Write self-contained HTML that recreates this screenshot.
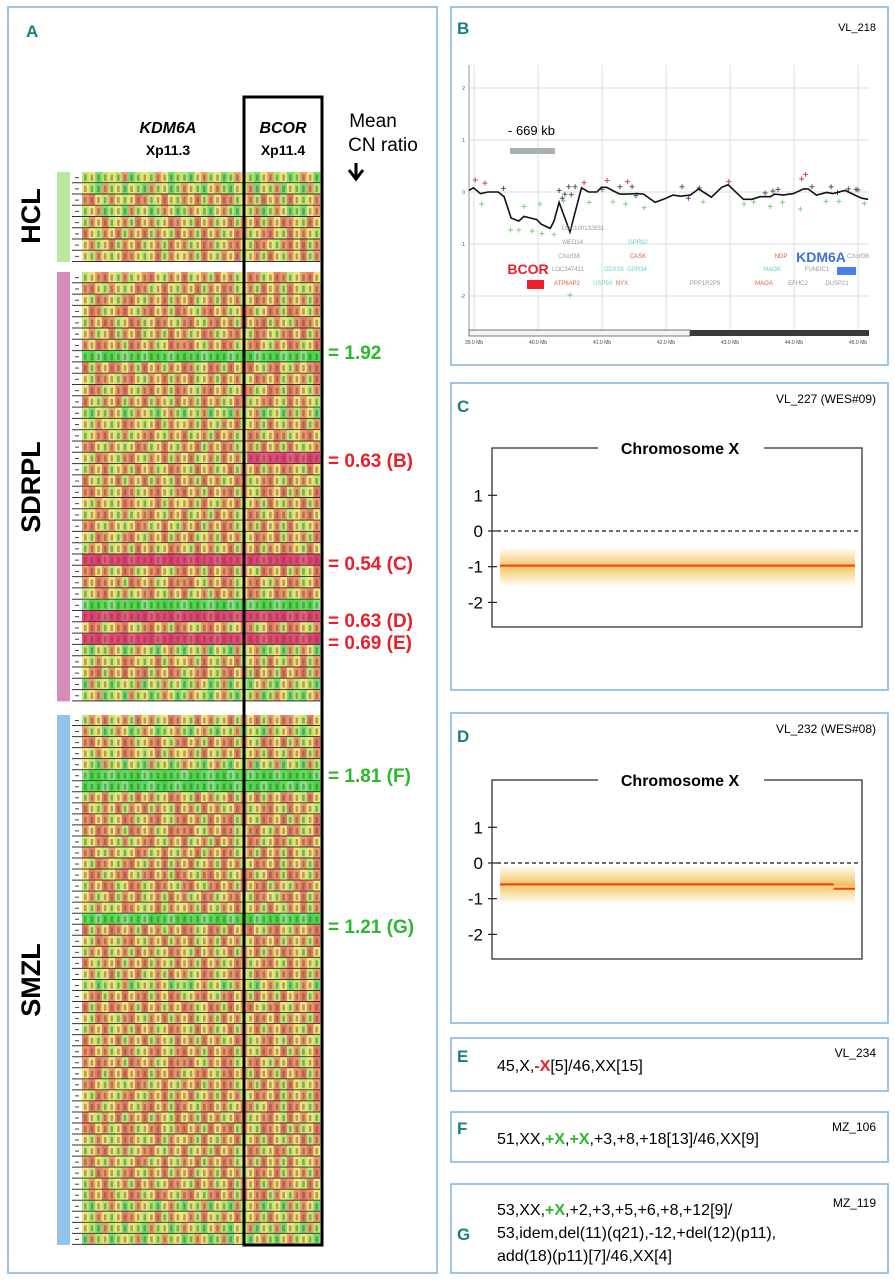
<!DOCTYPE html>
<html><head><meta charset="utf-8">
<style>
html,body{margin:0;padding:0;background:#fff;}
svg{display:block;font-family:"Liberation Sans",sans-serif;}
</style></head>
<body>
<svg id="fig" width="895" height="1280" viewBox="0 0 895 1280" xmlns="http://www.w3.org/2000/svg">
  <g fill="none" stroke="#7fb3e0" stroke-width="1.5">
    <rect x="8" y="7" width="429" height="1266"/>
    <rect x="451" y="7" width="437" height="358"/>
    <rect x="451" y="383" width="437" height="307"/>
    <rect x="451" y="713" width="437" height="310"/>
    <rect x="451" y="1038" width="437" height="53"/>
    <rect x="451" y="1112" width="437" height="50"/>
    <rect x="451" y="1184" width="437" height="89"/>
  </g>
  <g fill="#1a7f80" font-weight="bold" font-size="17">
    <text x="26" y="37">A</text>
    <text x="457" y="34">B</text>
    <text x="457" y="412">C</text>
    <text x="457" y="742">D</text>
    <text x="457" y="1062">E</text>
    <text x="457" y="1134">F</text>
    <text x="457" y="1240">G</text>
  </g>

  <text x="168" y="133" font-size="16" font-weight="bold" font-style="italic" text-anchor="middle">KDM6A</text>
  <text x="168" y="155" font-size="14" font-weight="bold" text-anchor="middle">Xp11.3</text>
  <text x="283" y="133" font-size="16" font-weight="bold" font-style="italic" text-anchor="middle">BCOR</text>
  <text x="283" y="155" font-size="14" font-weight="bold" text-anchor="middle">Xp11.4</text>
  <text x="373" y="127" font-size="19" text-anchor="middle">Mean</text>
  <text x="383" y="151" font-size="19" text-anchor="middle">CN ratio</text>
  <path d="M356 163 L356 177 M349 170 L356 179 L363 170" stroke="#000" stroke-width="3" fill="none"/>

  <g font-size="27" font-weight="bold" text-anchor="middle">
    <text transform="translate(40,216) rotate(-90)">HCL</text>
    <text transform="translate(40,487) rotate(-90)">SDRPL</text>
    <text transform="translate(40,980) rotate(-90)">SMZL</text>
  </g>

  <g id="heat"></g>
  <rect x="244" y="97" width="78" height="1148" fill="none" stroke="#000" stroke-width="3"/>

  <g font-size="19" font-weight="bold">
    <text x="328" y="359" fill="#2db82d">= 1.92</text>
    <text x="328" y="467" fill="#e8202a">= 0.63 (B)</text>
    <text x="328" y="570" fill="#e8202a">= 0.54 (C)</text>
    <text x="328" y="627" fill="#e8202a">= 0.63 (D)</text>
    <text x="328" y="649" fill="#e8202a">= 0.69 (E)</text>
    <text x="328" y="782" fill="#2db82d">= 1.81 (F)</text>
    <text x="328" y="933" fill="#2db82d">= 1.21 (G)</text>
  </g>

  <text x="876" y="31" font-size="11" text-anchor="end">VL_218</text>
  <g id="panelB"></g>

  <text x="876" y="403" font-size="12" text-anchor="end">VL_227 (WES#09)</text>
  <text x="876" y="733" font-size="12" text-anchor="end">VL_232 (WES#08)</text>
  <g id="panelC"></g>
  <g id="panelD"></g>

  <text x="876" y="1057" font-size="12" text-anchor="end">VL_234</text>
  <text x="497" y="1071" font-size="16">45,X,<tspan fill="#e8202a" font-weight="bold">-X</tspan>[5]/46,XX[15]</text>
  <text x="876" y="1131" font-size="12" text-anchor="end">MZ_106</text>
  <text x="497" y="1144" font-size="16">51,XX,<tspan fill="#2db82d" font-weight="bold">+X</tspan>,<tspan fill="#2db82d" font-weight="bold">+X</tspan>,+3,+8,+18[13]/46,XX[9]</text>
  <text x="876" y="1207" font-size="12" text-anchor="end">MZ_119</text>
  <text x="497" y="1215" font-size="16">53,XX,<tspan fill="#2db82d" font-weight="bold">+X</tspan>,+2,+3,+5,+6,+8,+12[9]/</text>
  <text x="497" y="1238" font-size="16">53,idem,del(11)(q21),-12,+del(12)(p11),</text>
  <text x="497" y="1261" font-size="16">add(18)(p11)[7]/46,XX[4]</text>
</svg>

<script>
const NS = "http://www.w3.org/2000/svg";
const hclRows = ["g","g","m","g","m","m","m","m"];
const sdrplRows = ["m","m","m","o","o","m","o","G","o","m","o","m","g","m","m","m","b","m","m","o","m","m","m","m","m","R","o","o","m","G","R","o","R","g","m","o","g","g"];
const smzlRows = ["m","g","o","m","g","G","G","m","m","o","o","m","m","m","o","o","m","m","G","o","m","m","m","m","g","o","o","m","m","m","o","o","o","m","m","o","m","o","m","m","m","m","m","o","g","m","g","g"];
const textures = [
 "012010320103120021301203102130120312",
 "102301210230120310213021032103210230",
 "230120103210301203120321021302130102",
 "013201230120312031021302103203120213",
 "120310213021032013021031203120320130",
 "301203120312013021302103210230130201",
 "021031203102130210321023013201230312"
];
const palettes = {
  G:["#4cdc4c","#5ae25a","#84e684","#46d846"],
  g:["#b4ea6e","#f2e47c","#72de72","#ec9e6c"],
  m:["#f2e47c","#bcea74","#ec9a6c","#e57e64"],
  o:["#ec966a","#f2e47c","#e57862","#bcea74"],
  R:["#e44676","#e03c72","#e8607e","#e44676"]
};
const groups = [
  {rows:hclRows, y0:172, h:11.25, color:"#b9e6a0", name:"hcl"},
  {rows:sdrplRows, y0:272, h:11.3, color:"#d68cb8", name:"sdrpl"},
  {rows:smzlRows, y0:715, h:11.04, color:"#93c3ea", name:"smzl"}
];
const heat = document.getElementById("heat");
const nCols = 36, cx0 = 82, cx1 = 320, bcorCol = 25;
const cw = (cx1 - cx0) / nCols;
function mk(tag, attrs, parent){const e=document.createElementNS(NS,tag);for(const k in attrs)e.setAttribute(k,attrs[k]);parent.appendChild(e);return e;}
let ri = 0;
groups.forEach(gr=>{
  const strip = mk("rect",{x:57,y:gr.y0,width:13,height:gr.rows.length*gr.h,fill:gr.color},heat);
  
  
  gr.rows.forEach((tone,i)=>{
    const y = gr.y0 + i*gr.h;
    const tex = textures[ri % textures.length]; ri++;
    for(let c=0;c<nCols;c++){
      let t = tone;
      if(tone==="b") t = c>=bcorCol ? "R" : "m";
      const col = palettes[t][+tex[c]];
      const r = mk("rect",{x:(cx0+c*cw).toFixed(2),y:y.toFixed(2),width:(cw+0.3).toFixed(2),height:gr.h.toFixed(2),fill:col},heat);
      
      
      const gl = mk("rect",{x:(cx0+c*cw+2).toFixed(2),y:(y+2.5).toFixed(2),width:2.6,height:(gr.h-5).toFixed(2),fill:"#5a4a30","fill-opacity":0.45},heat);
      
      
    }
    const ln = mk("line",{x1:72,x2:cx1,y1:(y+gr.h-0.5).toFixed(2),y2:(y+gr.h-0.5).toFixed(2),stroke:"#333","stroke-width":1},heat);
    
    
    const dash = mk("line",{x1:75,x2:79,y1:(y+gr.h/2).toFixed(2),y2:(y+gr.h/2).toFixed(2),stroke:"#444","stroke-width":1},heat);
    
    
  });
});

const bPosMb = [38.92,38.99,39.10,39.22,39.38,39.47,39.58,39.70,39.78,39.88,39.98,40.05,40.19,40.25,40.33,40.50,40.68,40.79,40.92,40.99,41.07,41.18,41.28,41.39,41.54,41.65,41.83,41.96,42.11,42.22,42.38,42.51,42.71,42.87,42.97,43.21,43.34,43.47,43.63,43.70,43.83,43.99,44.15,44.22,44.35,44.51,44.61,44.80,44.95,45.06,45.16];
const bVal = [0.03,0.08,-0.03,0,0,-0.09,-0.5,-0.56,-0.47,-0.5,-0.53,-0.62,-0.7,-0.56,-0.2,-0.77,0.08,0,0,0.09,0.09,0.02,-0.04,-0.04,-0.03,-0.04,-0.2,-0.14,-0.06,-0.08,-0.06,0.06,-0.1,0.09,0.14,-0.14,-0.14,-0.09,-0.09,-0.04,-0.06,-0.03,0.06,0.06,-0.06,-0.01,-0.03,0.03,-0.06,-0.12,-0.14];
const redPtsMb = [39.02,39.17,40.72,41.08,41.40,42.98,44.12,44.18];
const redPtsVal = [0.23,0.17,0.18,0.22,0.2,0.2,0.25,0.34];
const greenPtsMb = [39.12,39.57,39.70,39.78,39.91,40.03,40.06,40.25,40.4,40.5,40.8,41.17,41.37,41.66,42.58,43.22,43.37,43.63,43.82,44.1,44.5,44.7,45.1];
const greenPtsVal = [-0.23,-0.73,-0.73,-0.28,-0.75,-0.23,-0.8,-0.82,-0.17,-1.98,-0.2,-0.19,-0.23,-0.3,-0.19,-0.23,-0.19,-0.28,-0.2,-0.33,-0.18,-0.18,-0.22];
const grayPtsMb = [39.46,40.33,40.38,40.42,40.48,40.52,40.58,41.0,41.28,41.47,41.53,42.25,42.35,42.52,43.55,43.67,43.75,44.28,44.58,44.68,44.85,44.97,45.0];
const grayPtsVal = [0.07,0.03,-0.12,-0.04,0.1,-0.05,0.1,0.05,0.1,0.1,-0.07,0.1,-0.12,0.08,-0.02,0.02,0.05,0.1,0.1,-0.01,0.06,0.05,0.04];
const bYTicks = [2,1,0,-1,-2];
const bXTicks = [39,40,41,42,43,44,45];
const bx = mb => 474 + (mb-39)*64;
const by = v => 192 - v*52;
const B = document.getElementById("panelB");
bYTicks.forEach(t=>{
  const l = mk("line",{x1:469,x2:869,y1:by(t),y2:by(t),stroke:"#dcdcdc","stroke-width":1},B);
  
  
  const tx = mk("text",{x:465,y:by(t)+2,"font-size":5,"text-anchor":"end",fill:"#555"},B);
  tx.textContent = t;
  
  
});
bXTicks.forEach(t=>{
  const l = mk("line",{x1:bx(t),x2:bx(t),y1:65,y2:330,stroke:"#dcdcdc","stroke-width":1},B);
  
  
  const tx = mk("text",{x:bx(t),y:344,"font-size":5,"text-anchor":"middle",fill:"#444"},B);
  tx.textContent = t.toFixed(1)+" Mb";
  
  
});
{
  const ax = mk("line",{x1:469,x2:469,y1:65,y2:332,stroke:"#999","stroke-width":1},B);
  
  
  const c1 = mk("rect",{x:469,y:330,width:221,height:6,fill:"#f4f4f4",stroke:"#555","stroke-width":0.8},B);
  
  
  const c2 = mk("rect",{x:690,y:330,width:179,height:6,fill:"#3a3a3a"},B);
  
  
  const bar = mk("rect",{x:510,y:148,width:45,height:6,fill:"#a9b0b4"},B);
  
  
  const lab = mk("text",{x:508,y:135,"font-size":13},B);
  lab.textContent = "- 669 kb";
  
  
}
function plus(x,y,col,name){
  const p = mk("path",{d:`M${x-2.5} ${y}H${x+2.5}M${x} ${y-2.5}V${y+2.5}`,stroke:col,"stroke-width":1},B);
  
  
}
redPtsMb.forEach((m,i)=>plus(bx(m),by(redPtsVal[i]),"#e04050","b-point-gain"));
greenPtsMb.forEach((m,i)=>plus(bx(m),by(greenPtsVal[i]),"#7ad67a","b-point-loss"));
grayPtsMb.forEach((m,i)=>plus(bx(m),by(grayPtsVal[i]),"#555","b-point-neutral"));
{
  const d = bPosMb.map((m,i)=>(i?"L":"M")+bx(m).toFixed(1)+" "+by(bVal[i]).toFixed(1)).join(" ");
  const p = mk("path",{d:d,fill:"none",stroke:"#111","stroke-width":1.6},B);
  
  
}
const genes = [
 ["LOC100132831",583,230,"#999"],["MED14",573,244,"#999"],["CXorf38",569,258,"#999"],["LOC347411",568,271,"#999"],["ATP6AP2",567,285,"#e0603a"],
 ["GPR82",638,244,"#5ed6c6"],["CASK",638,258,"#e0603a"],["DDX3X",614,271,"#5ed6c6"],["GPR34",637,271,"#5ed6c6"],["USP9X",603,285,"#5ed6c6"],["NYX",622,285,"#e0603a"],
 ["PPP1R2P9",705,285,"#999"],["NDP",781,258,"#e0603a"],["MAOB",772,271,"#5ed6c6"],["MAOA",764,285,"#e0603a"],["EFHC2",798,285,"#999"],["CXorf36",858,258,"#999"],["FUNDC1",817,271,"#999"],["DUSP21",837,285,"#999"]
];
genes.forEach(g=>{
  const t = mk("text",{x:g[1],y:g[2],"font-size":6,"text-anchor":"middle",fill:g[3]},B);
  t.textContent = g[0];
  
  
});
{
  const t1 = mk("text",{x:528,y:274,"font-size":14,"font-weight":"bold","text-anchor":"middle",fill:"#e8202a"},B);
  t1.textContent = "BCOR";
  
  
  const r1 = mk("rect",{x:527,y:280,width:17,height:9,fill:"#e8202a"},B);
  
  
  const t2 = mk("text",{x:821,y:262,"font-size":14,"font-weight":"bold","text-anchor":"middle",fill:"#3d6fe0"},B);
  t2.textContent = "KDM6A";
  
  
  const r2 = mk("rect",{x:837,y:267,width:19,height:8,fill:"#4a7ff0"},B);
  
  
}

const cdTicks = [1,0,-1,-2];
const cSegStart = [0]; const cSegEnd = [1]; const cSegVal = [-0.97];
const dSegStart = [0, 0.94]; const dSegEnd = [0.94, 1]; const dSegVal = [-0.6, -0.72];
const cBandCenter = -1.0;
const dBandCenter = -0.6;
function cnPlot(gid, off, segS, segE, segV, band, tag){
  const G = document.getElementById(gid);
  const y = v => 531 + off - v*35.7;
  const fx = f => 500 + f*355;
  const f = mk("rect",{x:492,y:448+off,width:370,height:179,fill:"none",stroke:"#333","stroke-width":1.3},G);
  
  
  const wb = mk("rect",{x:598,y:438+off,width:166,height:20,fill:"#fff"},G);
  
  
  const t = mk("text",{x:680,y:454+off,"font-size":16,"font-weight":"bold","text-anchor":"middle"},G);
  t.textContent = "Chromosome X";
  
  
  cdTicks.forEach(v=>{
    const tk = mk("line",{x1:488,x2:497,y1:y(v),y2:y(v),stroke:"#222","stroke-width":1.2},G);
    
    
    const tl = mk("text",{x:483,y:y(v)+6,"font-size":17,"text-anchor":"end"},G);
    tl.textContent = v;
    
    
  });
  const bnd = mk("rect",{x:500,y:y(band+0.55),width:355,height:35.7*1.1,fill:"url(#bandGrad)"},G);
  
  
  const z = mk("line",{x1:497,x2:858,y1:y(0),y2:y(0),stroke:"#111","stroke-width":1.3,"stroke-dasharray":"4,3"},G);
  
  
  segS.forEach((s,i)=>{
    const l = mk("line",{x1:fx(s),x2:fx(segE[i]),y1:y(segV[i]),y2:y(segV[i]),stroke:"#f0401a","stroke-width":2},G);
    
    
  });
}
const defs = mk("defs",{},document.getElementById("fig"));
const grad = mk("linearGradient",{id:"bandGrad",x1:0,y1:0,x2:0,y2:1},defs);
mk("stop",{offset:"0","stop-color":"#f3c24a","stop-opacity":"0"},grad);
mk("stop",{offset:"0.25","stop-color":"#f3c24a","stop-opacity":"0.45"},grad);
mk("stop",{offset:"0.5","stop-color":"#eeb232","stop-opacity":"0.75"},grad);
mk("stop",{offset:"0.75","stop-color":"#f3c24a","stop-opacity":"0.45"},grad);
mk("stop",{offset:"1","stop-color":"#f3c24a","stop-opacity":"0"},grad);
cnPlot("panelC", 0, cSegStart, cSegEnd, cSegVal, cBandCenter, "c");
cnPlot("panelD", 332, dSegStart, dSegEnd, dSegVal, dBandCenter, "d");
</script>
</body></html>
